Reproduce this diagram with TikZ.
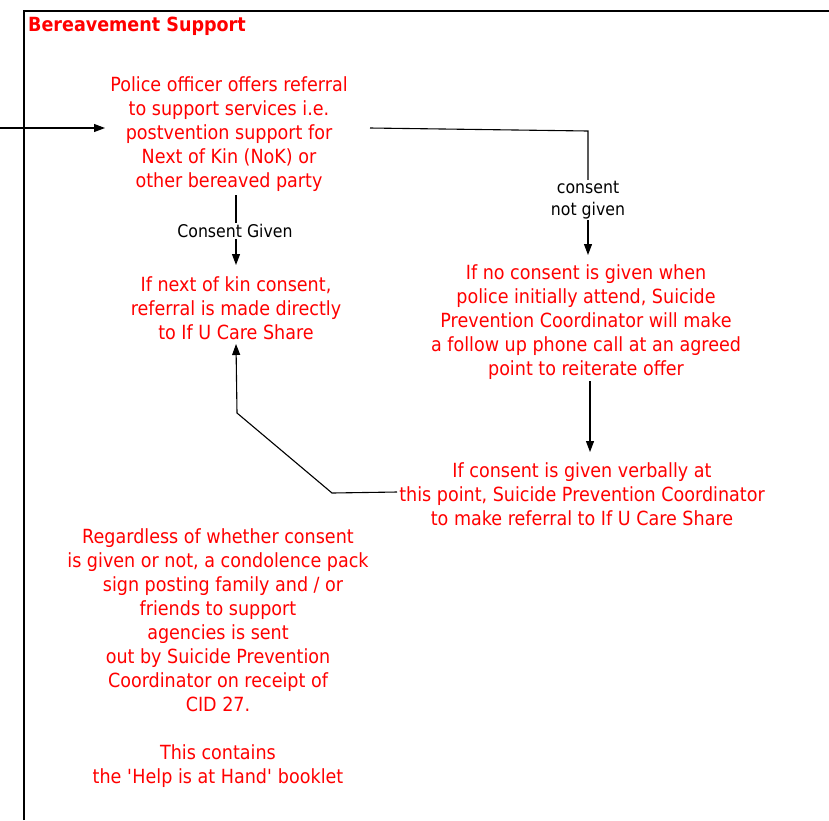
\documentclass[tikz,border=0pt]{standalone}
\usepackage{fontspec}
\setmainfont{DejaVu Sans}[FakeStretch=0.9]
\usetikzlibrary{arrows.meta}
\begin{document}
\begin{tikzpicture}[x=1pt,y=-1pt,
  txt/.style={text=red,align=center,inner sep=0pt,font=\fontsize{19.5}{24}\selectfont},
  lbl/.style={text=black,align=center,inner sep=1pt,font=\fontsize{17.5}{22}\selectfont},
  ln/.style={draw=black,line width=1.1pt},
  arr/.style={ln,-{Triangle[length=11pt,width=8pt]}}]
\useasboundingbox (0,0) rectangle (829,820);
% frame
\draw[ln] (24,820) -- (24,11) -- (829,11);
\node[anchor=west,text=red,inner sep=0pt,font=\fontsize{19.5}{22}\selectfont\bfseries] (title) at (28,26.5) {Bereavement Support};
% nodes
\node[txt] (A) at (229,134.5) {Police officer offers referral\\to support services i.e.\\postvention support for\\Next of Kin (NoK) or\\other bereaved party};
\node[txt] (B) at (236,308) {If next of kin consent,\\referral is made directly\\to If U Care Share};
\node[txt] (C) at (586,322.5) {If no consent is given when\\police initially attend, Suicide\\Prevention Coordinator will make\\a follow up phone call at an agreed\\point to reiterate offer};
\node[txt] (D) at (582,494.5) {If consent is given verbally at\\this point, Suicide Prevention Coordinator\\to make referral to If U Care Share};
\node[txt] (E) at (218,658.5) {Regardless of whether consent\\is given or not, a condolence pack\\\hspace{10pt}sign posting family and / or\\friends to support\\agencies is sent\\out by Suicide Prevention\\Coordinator on receipt of\\CID 27.\\[24pt]This contains\\the \textquotesingle Help is at Hand\textquotesingle{} booklet};
% labels
\node[lbl] (cg) at (235,231) {Consent Given};
\node[lbl] (cng) at (588,200) {consent\\not given};
% connector end points
\coordinate (pin) at (0,128);
\coordinate (Ain) at (105,128);
\coordinate (Aout) at (370,128);
\coordinate (k1) at (588,131);
\coordinate (Cin) at (588,255);
\coordinate (Abot) at (236,195);
\coordinate (Btop) at (236,265);
\coordinate (Cbot) at (590,381);
\coordinate (Dtop) at (590,452);
\coordinate (Dout) at (397,492);
\coordinate (k2) at (332,493);
\coordinate (k3) at (237,413);
\coordinate (Bbot) at (236,344);
% connectors
\draw[arr] (pin) -- (Ain);
\draw[ln] (Aout) -- (k1) -- (cng.north -| k1);
\draw[arr] (cng.south -| k1) -- (Cin);
\draw[ln] (Abot) -- (cg.north -| Abot);
\draw[arr] (cg.south -| Abot) -- (Btop);
\draw[arr] (Cbot) -- (Dtop);
\draw[arr] (Dout) -- (k2) -- (k3) -- (Bbot);
\end{tikzpicture}
\end{document}
